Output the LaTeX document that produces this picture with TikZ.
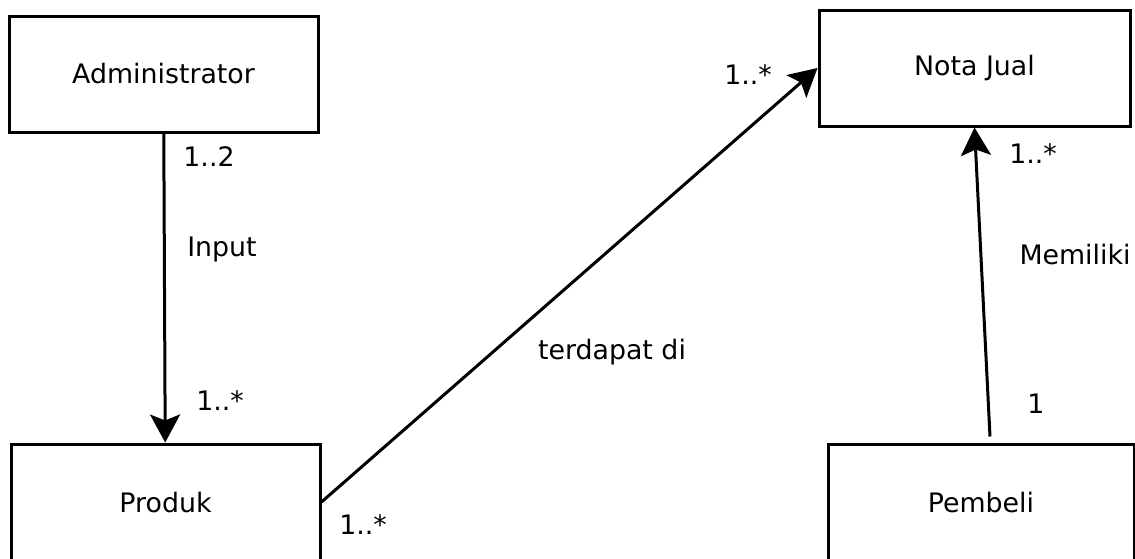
\documentclass[tikz,border=0pt]{standalone}
\usepackage{fontspec}
\setmainfont{DejaVu Sans}
\usetikzlibrary{arrows.meta}

\begin{document}
\begin{tikzpicture}[
    x=0.5pt, y=-0.5pt,
    font=\fontsize{13.4}{16}\selectfont,
    box/.style={
        rectangle,
        draw,
        line width=1.5pt,
        minimum width=154.5pt,
        minimum height=58pt,
        align=center
    },
    assoc/.style={
        -{Stealth[length=14pt,width=15pt,inset=3pt]},
        line width=1.5pt
    },
    mult/.style={inner sep=0pt}
]
\clip (0,0) rectangle (1135,558);

\node[box] (admin) at (163.5,74) {Administrator};

\node[box, minimum width=155.5pt] (nota) at (974.5,68) {Nota Jual};

\node[box] (produk) at (165.5,502) {Produk};

\node[box, minimum width=153pt] (pembeli) at (981,502) {Pembeli};

\draw[assoc] (admin) -- (produk);
\draw[assoc] (produk.east) -- (nota.west);
\draw[assoc] ([xshift=4.5pt,yshift=3pt]pembeli.north) -- (nota.south);

\node[mult] (m1) at (209,157) {1..2};
\node[mult] (input) at (222,250) {Input};
\node[mult] (m2) at (220,401) {1..*};
\node[mult] (m3) at (363,525) {1..*};
\node[mult] (m4) at (748,75) {1..*};
\node[mult] (terdapat) at (612,352) {terdapat di};
\node[mult] (m5) at (1033,154) {1..*};
\node[mult] (memiliki) at (1075,255) {Memiliki};
\node[mult] (m6) at (1036,404) {1};

\end{tikzpicture}
\end{document}
